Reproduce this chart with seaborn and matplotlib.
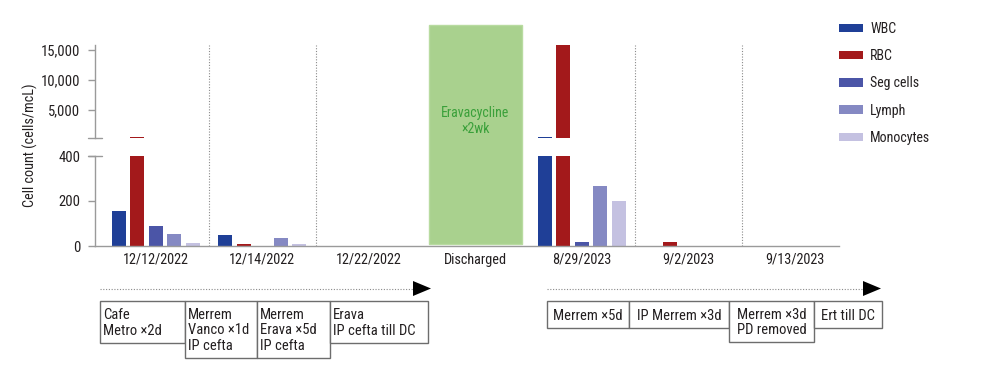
import pandas as pd
import matplotlib
matplotlib.use('Agg')
import matplotlib.pyplot as plt
from matplotlib.patches import Rectangle, Polygon
from matplotlib.lines import Line2D
from matplotlib.transforms import blended_transform_factory
import seaborn as sns

# data
dates = ['12/12/2022', '12/14/2022', '12/22/2022', 'Discharged', '8/29/2023', '9/2/2023', '9/13/2023']
cells = ['WBC', 'RBC', 'Seg cells', 'Lymph', 'Monocytes']
wbc = [157, 48, 0, 0, 480, 0, 0]
rbc = [500, 8, 0, 0, 15800, 18, 0]
seg = [89, 0, 0, 0, 20, 0, 0]
lymph = [52, 34, 0, 0, 268, 0, 0]
mono = [12, 9, 0, 0, 199, 0, 0]
colors = ['#1f3f97', '#a3191b', '#4b55a7', '#8589c3', '#c4c1e1']

stay_label = 'Discharged'
stay_text = 'Eravacycline\n\u00d72wk'
regimens_2022 = ['Cafe\nMetro \u00d72d', 'Merrem\nVanco \u00d71d\nIP cefta',
                 'Merrem\nErava \u00d75d\nIP cefta', 'Erava\nIP cefta till DC']
regimens_2023 = ['Merrem \u00d75d', 'IP Merrem \u00d73d', 'Merrem \u00d73d\nPD removed', 'Ert till DC']

df = pd.DataFrame({'date': dates, 'WBC': wbc, 'RBC': rbc, 'Seg cells': seg,
                   'Lymph': lymph, 'Monocytes': mono})
df = df.melt(id_vars='date', var_name='cell', value_name='count')

sns.set_style('white')
plt.rcParams['font.family'] = ['Roboto Condensed', 'Liberation Sans Narrow', 'Liberation Sans', 'DejaVu Sans']
plt.rcParams['font.size'] = 10
plt.rcParams['text.color'] = '#231f20'

W, H = 1000, 383
def fx(x):
    return x / W
def fy(y):
    return 1 - y / H

fig = plt.figure(figsize=(10, 3.83), dpi=100)
ax_lo = fig.add_axes([fx(95), fy(246), fx(839) - fx(95), fy(156) - fy(246)])
ax_hi = fig.add_axes([fx(95), fy(138), fx(839) - fx(95), fy(45) - fy(138)])

grey = '#9a9a9a'
for ax, show_leg in [(ax_lo, False), (ax_hi, True)]:
    sns.barplot(data=df, x='date', y='count', hue='cell', order=dates, hue_order=cells,
                palette=colors, saturation=1, width=0.87, gap=0.25, linewidth=0,
                errorbar=None, legend=show_leg, ax=ax)
    ax.patch.set_visible(False)
    ax.set_xlim(-0.571, 6.415)
    ax.set_xlabel('')
    ax.set_ylabel('')
    for s in ['top', 'right']:
        ax.spines[s].set_visible(False)
    for s in ['left', 'bottom']:
        ax.spines[s].set_color(grey)
        ax.spines[s].set_linewidth(1)
    ax.tick_params(axis='y', direction='out', length=5, width=1, color=grey, pad=5.5,
                   labelsize=10.5, labelcolor='#231f20', left=True)

ax_lo.set_ylim(0, 400)
ax_lo.set_yticks([0, 200, 400])
ax_lo.tick_params(axis='x', length=0, pad=5, labelsize=10.3, labelcolor='#231f20')

ax_hi.set_ylim(333, 15833)
ax_hi.set_yticks([5000, 10000, 15000])
ax_hi.set_yticklabels(['5,000', '10,000', '15,000'])
ax_hi.spines['bottom'].set_visible(False)
ax_hi.set_xticks([])

# axis break caps
ax_hi.plot([-0.0094, 0.0094], [0, 0], transform=ax_hi.transAxes, color=grey, lw=1, clip_on=False)
ax_lo.plot([-0.0094, 0.0094], [1, 1], transform=ax_lo.transAxes, color=grey, lw=1, clip_on=False)

# dotted separators between admissions
lo_h = 246 - 156
for b in [0.5, 1.5, 4.5, 5.5]:
    ax_lo.axvline(b, ymin=0, ymax=(246 - 45) / lo_h, color='#8a8a8a', lw=0.8,
                  ls=(0, (1, 1.5)), clip_on=False)

# discharge period box
blend = blended_transform_factory(ax_lo.transData, ax_lo.transAxes)
idx = dates.index(stay_label)
ax_lo.add_patch(Rectangle((idx - 0.435, 2 / lo_h), 0.87, (244 - 25) / lo_h, transform=blend,
                          fc='#a9d18e', ec='#b8dba0', lw=1, clip_on=False, zorder=1))
ax_lo.text(idx, (246 - 121) / lo_h, stay_text, transform=blend, ha='center', va='center',
           color='#3aa03a', fontsize=10, linespacing=1.2)

fig.text(fx(30), fy(145), 'Cell count (cells/mcL)', rotation=90, ha='center', va='center', fontsize=10.3)

# legend
handles, labels = ax_hi.get_legend_handles_labels()
ax_hi.get_legend().remove()
fig.legend(handles, labels, loc='upper left', bbox_to_anchor=(fx(839), fy(22)), frameon=False,
           borderpad=0, borderaxespad=0, handlelength=1.75, handleheight=0.55,
           handletextpad=0.5, labelspacing=0.95, fontsize=10)

# timeline arrows and regimen boxes
def arrow(x0, x1, y):
    fig.add_artist(Line2D([fx(x0), fx(x1)], [fy(y), fy(y)], transform=fig.transFigure,
                          color='#8a8a8a', lw=0.8, ls=(0, (1, 1.5))))
    fig.add_artist(Polygon([(fx(x1), fy(y - 7.5)), (fx(x1), fy(y + 7.5)), (fx(x1 + 18), fy(y))],
                           closed=True, transform=fig.transFigure, fc='black', ec='none'))

arrow(100, 413, 288.5)
arrow(547, 863, 288.5)

def boxes(texts, edges, bottoms, top, ha):
    for i, t in enumerate(texts):
        x0, x1, y1 = edges[i], edges[i + 1], bottoms[i]
        fig.add_artist(Rectangle((fx(x0), fy(y1)), fx(x1) - fx(x0), fy(top) - fy(y1),
                                 transform=fig.transFigure, fc='white', ec='#6d6d6d', lw=1))
        tx = x0 + 3 if ha == 'left' else (x0 + x1) / 2
        fig.text(fx(tx), fy((top + y1) / 2 + 1), t, ha=ha, va='center', fontsize=10.5, linespacing=1.15)

boxes(regimens_2022, [100, 185, 257, 330, 428], [343, 358, 358, 343], 301, 'left')
boxes(regimens_2023, [547, 629, 729, 814, 882], [328, 328, 342, 328], 301, 'center')

fig.savefig('out.png', dpi=100)
